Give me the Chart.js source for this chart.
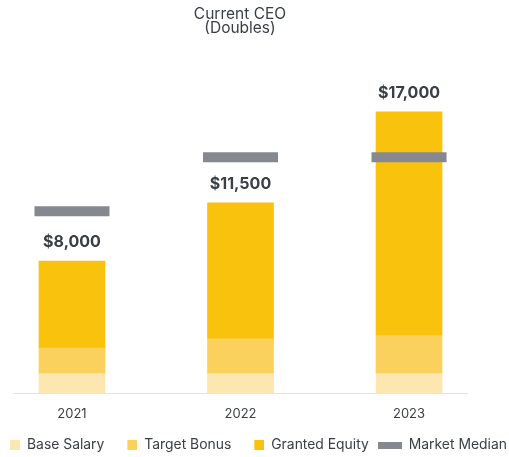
<!DOCTYPE html>
<html>
<head>
<meta charset="utf-8">
<script src="https://cdn.jsdelivr.net/npm/chart.js@4.4.1/dist/chart.umd.min.js"></script>
<style>
html,body{margin:0;padding:0;background:#fff;}
#wrap{position:relative;width:509px;height:457px;}
</style>
</head>
<body>
<div id="wrap"><canvas id="c" width="509" height="457"></canvas></div>
<script>
const years = ['2021', '2022', '2023'];
const baseSalary = [1200, 1200, 1200];
const targetBonus = [1550, 2100, 2300];
const grantedEquity = [5250, 8200, 13500];
const marketMedian = [11000, 14250, 14250];
const seriesNames = ['Base Salary', 'Target Bonus', 'Granted Equity', 'Market Median'];
const titleLines = ['Current CEO', '(Doubles)'];

const COLORS = ['#FDE6AF', '#F9D15C', '#F9C20D', '#85888E'];
const FONT = 'Inter';

function makeSwatch(w, h, slot, color) {
  const c = document.createElement('canvas');
  c.width = slot; c.height = h;
  const g = c.getContext('2d');
  g.fillStyle = color;
  g.fillRect(slot - w, 0, w, h);
  return c;
}
const swatches = [
  makeSwatch(10, 10, 24, COLORS[0]),
  makeSwatch(10, 10, 24, COLORS[1]),
  makeSwatch(10, 10, 24, COLORS[2]),
  makeSwatch(24, 7, 24, COLORS[3])
];

const fmt = v => '$' + v.toLocaleString('en-US');

const totalLabels = {
  id: 'totalLabels',
  afterDatasetsDraw(chart) {
    const ctx = chart.ctx;
    const top = chart.getDatasetMeta(2);
    ctx.save();
    ctx.font = 'bold 16px "' + FONT + '"';
    ctx.fillStyle = '#3A3E46';
    ctx.textAlign = 'center';
    ctx.textBaseline = 'middle';
    top.data.forEach((bar, i) => {
      const total = baseSalary[i] + targetBonus[i] + grantedEquity[i];
      ctx.fillText(fmt(total), bar.x, bar.y - 18.5);
    });
    ctx.restore();
  }
};

const xy = arr => arr.map((v, i) => ({x: i, y: v}));

new Chart(document.getElementById('c'), {
  type: 'bar',
  data: {
    datasets: [
      {label: seriesNames[0], data: xy(baseSalary), backgroundColor: COLORS[0], stack: 'pay', order: 2},
      {label: seriesNames[1], data: xy(targetBonus), backgroundColor: COLORS[1], stack: 'pay', order: 2},
      {label: seriesNames[2], data: xy(grantedEquity), backgroundColor: COLORS[2], stack: 'pay', order: 2},
      {label: seriesNames[3], type: 'line', data: xy(marketMedian), stack: 'median', order: 1,
       showLine: false, pointStyle: 'line', pointRadius: 37.5, pointHoverRadius: 37.5,
       pointBorderWidth: 10, pointHoverBorderWidth: 10, borderColor: COLORS[3], backgroundColor: COLORS[3]}
    ]
  },
  options: {
    responsive: false,
    animation: false,
    events: [],
    barThickness: 66,
    layout: {autoPadding: false, padding: {left: -16, right: -10, top: 0, bottom: -5}},
    plugins: {
      title: {
        display: true, text: titleLines, fullSize: false,
        color: '#3A3E46', font: {family: FONT, size: 15.5, weight: 'normal', lineHeight: '14px'},
        padding: {top: 7.5, bottom: 26.5}
      },
      legend: {
        position: 'bottom',
        labels: {
          usePointStyle: true, pointStyleWidth: 24, boxHeight: 10, padding: 9,
          color: '#3A3E46', font: {family: FONT, size: 13.9},
          sort: (a, b) => a.datasetIndex - b.datasetIndex,
          generateLabels(chart) {
            const items = Chart.defaults.plugins.legend.labels.generateLabels(chart);
            items.forEach(it => { it.pointStyle = swatches[it.datasetIndex]; it.lineWidth = 0; it.strokeStyle = 'rgba(0,0,0,0)'; });
            return items;
          }
        }
      },
      tooltip: {enabled: false}
    },
    scales: {
      x: {
        type: 'linear', min: -0.35, max: 2.344, stacked: true, offset: false, bounds: 'data',
        grid: {display: false, drawTicks: false},
        border: {display: true, color: '#E2E2E2', width: 1},
        afterBuildTicks(s) { s.ticks = years.map((y, i) => ({value: i})); },
        afterFit(s) { s.height = 35.5; s.paddingLeft = 0; s.paddingRight = 0; },
        ticks: {
          padding: 12.5, color: '#3A3E46', font: {family: FONT, size: 13},
          callback: v => years[v]
        }
      },
      y: {
        stacked: true, min: 0, max: 20000,
        grid: {display: false}, border: {display: false},
        ticks: {display: false},
        afterFit(s) { s.width = 29; }
      },
      yR: {
        position: 'right', min: 0, max: 1,
        grid: {display: false}, border: {display: false},
        ticks: {display: false},
        afterFit(s) { s.width = 52; }
      }
    }
  },
  plugins: [totalLabels]
});
</script>
</body>
</html>
